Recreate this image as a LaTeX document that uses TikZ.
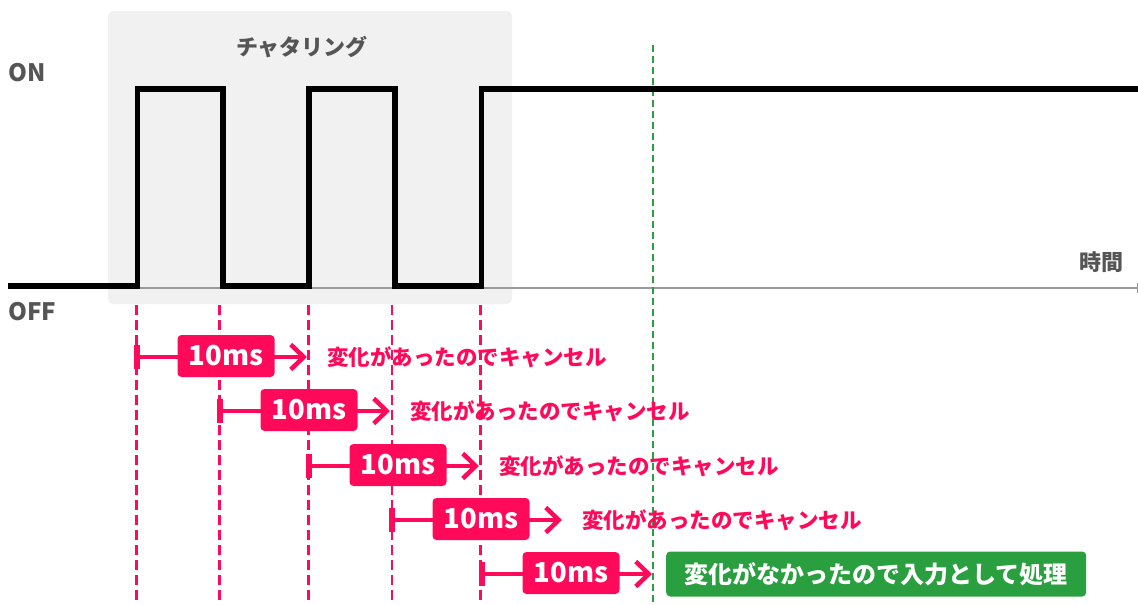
\documentclass[tikz,border=0pt]{standalone}
\usepackage{fontspec}
\setmainfont{Noto Sans CJK JP}
\usetikzlibrary{arrows.meta,calc}
\definecolor{pinkc}{HTML}{FF0A5B}
\definecolor{greenc}{HTML}{2A9F3F}
\definecolor{boxgray}{HTML}{F1F1F1}
\definecolor{txtgray}{HTML}{555555}
\definecolor{axisgray}{HTML}{9A9A9A}
\begin{document}
\begin{tikzpicture}[x=1pt,y=-1pt,
  lbl/.style={text=txtgray,font=\fontsize{24}{28}\selectfont\bfseries,inner sep=0pt},
  tlbl/.style={text=txtgray,font=\fontsize{22}{26}\selectfont\bfseries,inner sep=0pt},
  pinkdash/.style={draw=pinkc,line width=2.8pt,dash pattern=on 10pt off 5pt},
  greendash/.style={draw=greenc,line width=2.6pt,dash pattern=on 7pt off 4pt},
  rowline/.style={draw=pinkc,line width=4.5pt,-{Straight Barb[length=13pt,width=25pt]}},
  msbox/.style={fill=pinkc,text=white,rounded corners=4pt,minimum width=97pt,minimum height=42pt,inner sep=0pt,font=\fontsize{27.5}{30}\selectfont\bfseries},
  cancel/.style={text=pinkc,inner sep=0pt,anchor=west,font=\fontsize{21.5}{25}\selectfont\bfseries},
  okbox/.style={fill=greenc,text=white,rounded corners=4pt,minimum width=420pt,minimum height=45pt,inner sep=0pt,anchor=west,font=\fontsize{24}{28}\selectfont\bfseries}
]
\useasboundingbox (0,0) rectangle (1138,605);
% chattering area
\fill[boxgray,rounded corners=5pt] (108,11) rectangle (512,304);
\node[tlbl] (chat) at (302,47.5) {チャタリング};
% labels
\node[lbl,anchor=west] (on) at (8,73) {ON};
\node[lbl,anchor=west] (off) at (8,312) {OFF};
\node[tlbl,anchor=east] (time) at (1124,262) {時間};
% time axis
\coordinate (ax0) at (8,288);
\coordinate (ax1) at (1137,288);
\draw[axisgray,line width=2pt] (ax0) -- (ax1);
\draw[axisgray,line width=1pt] ($(ax1)+(0,-5)$) -- ($(ax1)+(0,5)$);
% dashed verticals
\foreach \i/\x in {1/136.5,2/219.5,3/308.5,4/392,5/480.5}{
  \coordinate (dt\i) at (\x,305);
  \coordinate (db\i) at (\x,605);
  \draw[pinkdash] (dt\i) -- (db\i);
}
\coordinate (gt) at (653,45);
\coordinate (gb) at (653,605);
\draw[greendash] (gt) -- (gb);
% signal
\draw[black,line width=5.5pt,line join=miter] (8,286) -- (137.5,286) -- (137.5,89) -- (223,89) -- (223,286)
  -- (309,286) -- (309,89) -- (395,89) -- (395,286) -- (481.5,286) -- (481.5,89) -- (1140,89);
% rows
\foreach \i/\x/\y in {1/137/357,2/220/411,3/309/466,4/392/520,5/482/574}{
  \coordinate (s\i) at (\x,\y);
  \coordinate (e\i) at (\x+170,\y);
  \fill[pinkc] ($(s\i)+(-2.8,-12)$) rectangle ($(s\i)+(2.8,12)$);
  \draw[rowline] (s\i) -- (e\i);
  \node[msbox] (b\i) at (\x+89,\y-1) {10ms};
}
\foreach \i in {1,2,3,4}{
  \node[cancel] (c\i) at ($(e\i)+(20,0)$) {変化があったのでキャンセル};
}
\node[okbox] (ok) at ($(e5)+(14,0)$) {変化がなかったので入力として処理};
\end{tikzpicture}
\end{document}
